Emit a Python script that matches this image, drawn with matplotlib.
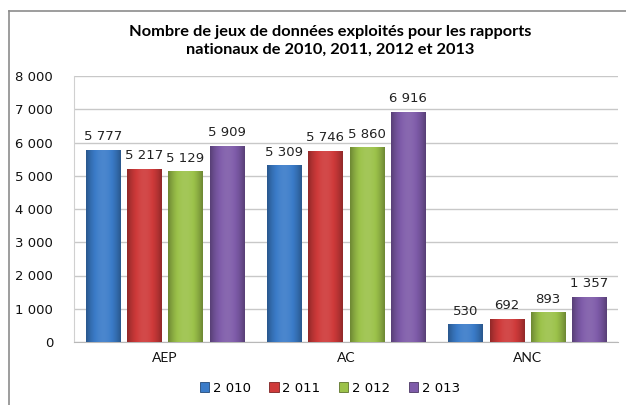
import numpy as np
import matplotlib.pyplot as plt
import matplotlib.colors as mcolors
from matplotlib.lines import Line2D

categories = ["AEP", "AC", "ANC"]
series = ["2 010", "2 011", "2 012", "2 013"]
v2010 = [5777, 5309, 530]
v2011 = [5217, 5746, 692]
v2012 = [5129, 5860, 893]
v2013 = [5909, 6916, 1357]
values = [v2010, v2011, v2012, v2013]

base_colors = ["#3B7CC9", "#CF3A3A", "#9CC24A", "#7E5BA9"]

plt.rcParams['font.family'] = ['Lato', 'DejaVu Sans']
num_font = 'DejaVu Sans'

fig = plt.figure(figsize=(6.26, 4.05), dpi=100)
ax = fig.add_axes([74 / 626, 1 - 342 / 405, (618 - 74) / 626, (342 - 76) / 405])

x = np.arange(len(categories))
pitch = 0.228
width = 0.188

def shade(c, f):
    r, g, b = mcolors.to_rgb(c)
    if f < 1:
        return (r * f, g * f, b * f)
    f = f - 1
    return (r + (1 - r) * f, g + (1 - g) * f, b + (1 - b) * f)

for i, (vals, col) in enumerate(zip(values, base_colors)):
    pos = x + (i - 1.5) * pitch
    bars = ax.bar(pos, vals, width, color=col, edgecolor=shade(col, 0.6),
                  linewidth=0.6, label=series[i], zorder=3)
    # horizontal gradient, dark at the sides, light in the middle
    prof = np.linspace(-1, 1, 64)
    fac = 1.08 - 0.38 * prof ** 2
    grad = np.array([[shade(col, f) for f in fac]])
    for b, v in zip(bars, vals):
        bx, by = b.get_x(), b.get_y()
        bw, bh = b.get_width(), b.get_height()
        im = ax.imshow(grad, extent=[bx, bx + bw, by, by + bh], aspect='auto',
                       zorder=3.5, interpolation='bilinear')
        im.set_clip_path(b)
        ax.text(bx + bw / 2, v + 200, f"{v:,}".replace(",", " "), ha='center',
                va='bottom', fontsize=9.5, color='#222222', zorder=5,
                family=num_font)

ax.set_xlim(-0.5, 2.5)
ax.set_ylim(0, 8000)
ax.set_yticks(range(0, 8001, 1000))
ax.set_yticklabels([f"{t:,}".replace(",", " ") for t in range(0, 8001, 1000)],
                   family=num_font)
ax.set_xticks(x)
ax.set_xticklabels(categories)
ax.tick_params(axis='y', length=0, pad=15, labelsize=9.5, labelcolor='#111111')
ax.tick_params(axis='x', length=0, pad=7, labelsize=10, labelcolor='#111111')
ax.grid(axis='y', color='#C8C8C8', linewidth=1.0, zorder=0)
for s in ['top', 'right']:
    ax.spines[s].set_visible(False)
ax.spines['left'].set_color('#D0D0D0')
ax.spines['bottom'].set_color('#B8B8B8')

fig.text(0.527, 1 - 41 / 405, "Nombre de jeux de données exploités pour les rapports\nnationaux de 2010, 2011, 2012 et 2013",
         ha='center', va='center', fontsize=11.8, fontweight='bold', linespacing=1.3)

leg = fig.legend(loc='center', bbox_to_anchor=(0.527, 1 - 388 / 405), ncol=4,
                 frameon=False, fontsize=9.5, handlelength=0.7, handleheight=0.7,
                 handletextpad=0.3, columnspacing=1.4, prop={'family': num_font, 'size': 9.5})

fig.add_artist(Line2D([9 / 626, 9 / 626], [0, 1 - 11 / 405], color='#8C8C8C', linewidth=1.2))
fig.add_artist(Line2D([9 / 626, 1], [1 - 11 / 405, 1 - 11 / 405], color='#8C8C8C', linewidth=1.2))

fig.savefig("out.png", dpi=100)
